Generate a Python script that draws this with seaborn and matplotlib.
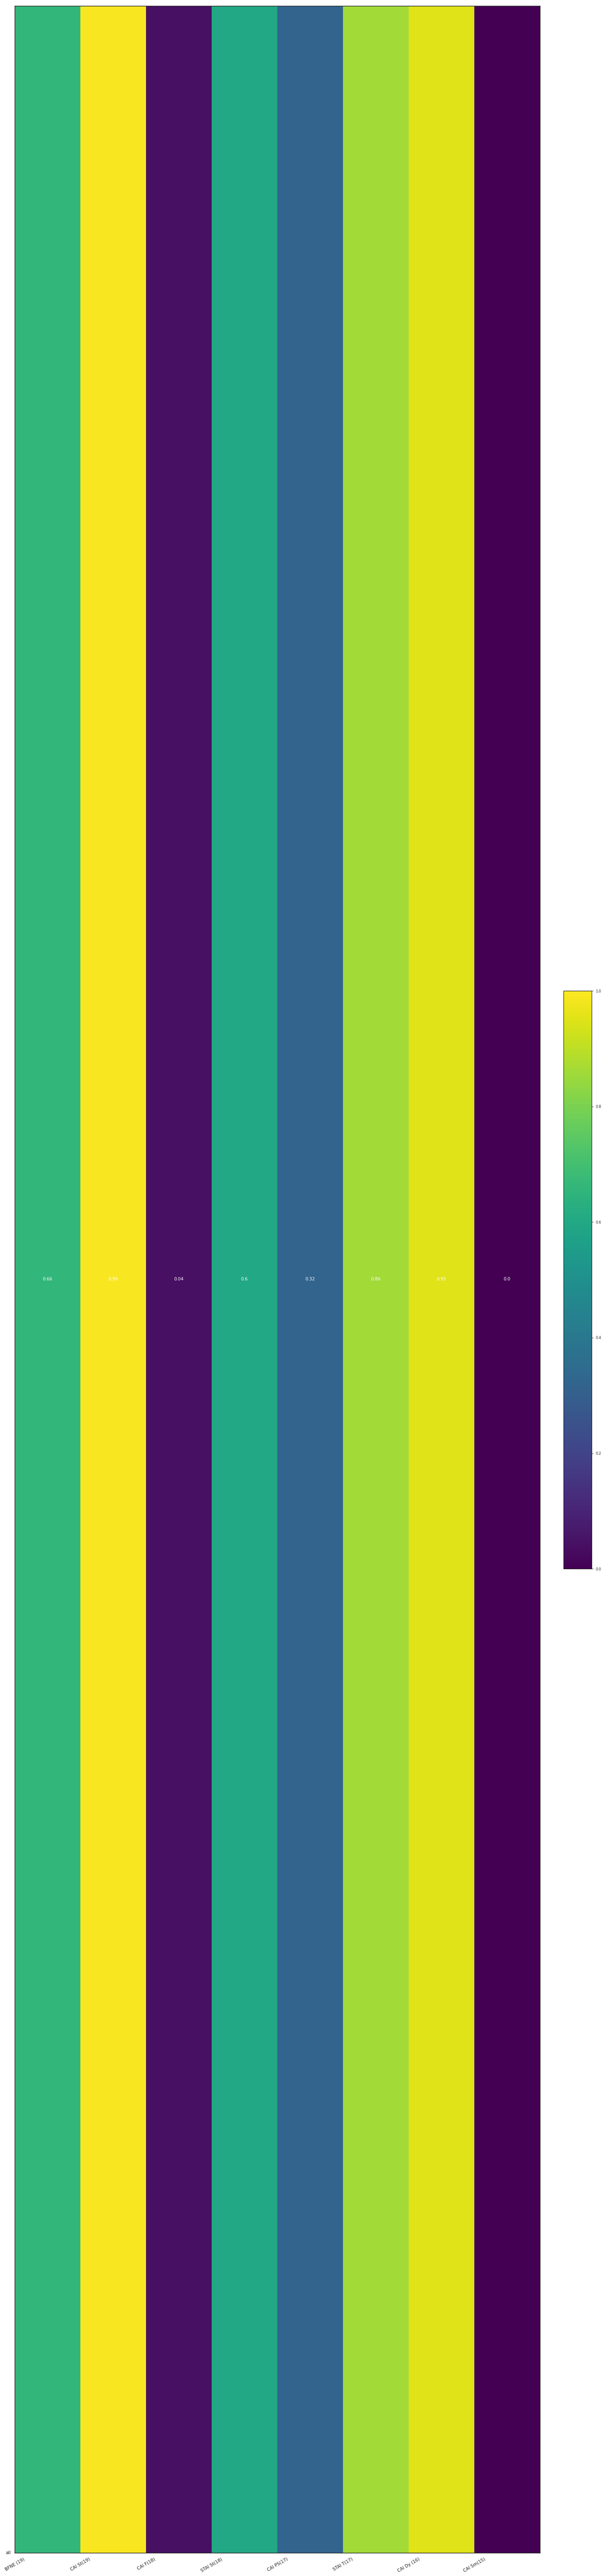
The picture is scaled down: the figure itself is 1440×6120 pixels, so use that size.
import pandas as pd
import matplotlib
matplotlib.use('Agg')
import matplotlib.pyplot as plt
import seaborn as sns
import numpy as np

scales = ['BFNE (19)', 'CAI St(19)', 'CAI F(18)', 'STAI St(18)', 'CAI PS(17)', 'STAI T(17)', 'CAI Dy (16)', 'CAI Sm(15)']
scores = [0.66, 0.99, 0.04, 0.6, 0.32, 0.86, 0.95, 0.0]
row_names = ['all']

df = pd.DataFrame([scores], index=row_names, columns=scales)
labels = np.array([[str(v) for v in scores]])

sns.set_style("white")
plt.rcParams['font.family'] = ['DejaVu Sans']

fig = plt.figure(figsize=(14.4, 61.2), dpi=100)
ax = fig.add_axes([0.0243, 0.0090, 0.8667, 0.9887])
cax = fig.add_axes([0.930, 0.391, 0.0465, 0.2243])

sns.heatmap(df, ax=ax, cbar_ax=cax, cmap='viridis', vmin=0, vmax=1,
            annot=labels, fmt='', annot_kws={'color': 'white', 'fontsize': 7.5})

# ticks sit on the cell edges, last edge has no label
ax.set_xticks(np.arange(len(scales) + 1))
ax.set_xticklabels(scales + [''], rotation=30, ha='center', fontsize=7.5)
ax.set_yticks([len(row_names)])
ax.set_yticklabels(row_names, rotation=0, fontsize=7.5)
ax.tick_params(axis='both', length=3.5, width=0.8, color='#1a1a1a')
for s in ax.spines.values():
    s.set_visible(True)
    s.set_color('#1a1a1a')
    s.set_linewidth(1.0)

cbar = ax.collections[0].colorbar
cbar.set_ticks([0, 0.2, 0.4, 0.6, 0.8, 1.0])
cbar.ax.tick_params(labelsize=6, length=3, width=0.6)
cbar.outline.set_visible(True)
cbar.outline.set_edgecolor('#1a1a1a')
cbar.outline.set_linewidth(0.8)

plt.savefig('out.png', dpi=100)
